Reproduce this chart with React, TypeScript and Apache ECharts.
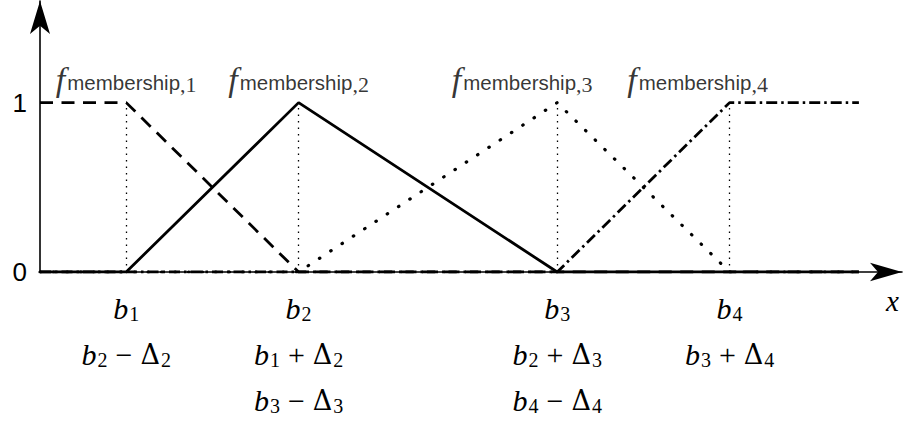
import React, { useEffect, useRef } from "react";
import * as echarts from "echarts";

// Breakpoints b1..b4 on the x axis
const bPositions = [1, 3, 6, 8];

// Membership functions (x, membership)
const f1Data = [[0, 1], [1, 1], [3, 0], [9.5, 0]];
const f2Data = [[0, 0], [1, 0], [3, 1], [6, 0], [9.5, 0]];
const f3Data = [[0, 0], [3, 0], [6, 1], [8, 0], [9.5, 0]];
const f4Data = [[0, 0], [6, 0], [8, 1], [9.5, 1]];

// Labels
const fLabelIndex = ["1", "2", "3", "4"];
const bLabelRows = [
  ["{i|b}{s|1}", "{i|b}{s|2}{o|−}{d|Δ}{s|2}"],
  ["{i|b}{s|2}", "{i|b}{s|1}{o|+}{d|Δ}{s|2}", "{i|b}{s|3}{o|−}{d|Δ}{s|3}"],
  ["{i|b}{s|3}", "{i|b}{s|2}{o|+}{d|Δ}{s|3}", "{i|b}{s|4}{o|−}{d|Δ}{s|4}"],
  ["{i|b}{s|4}", "{i|b}{s|3}{o|+}{d|Δ}{s|4}"],
];
const yTickValues = [0, 1];

const SERIF = "'Liberation Serif', 'DejaVu Serif', serif";
const DSERIF = "'DejaVu Serif', 'Liberation Serif', serif";
const SANS = "'Liberation Sans', Arial, sans-serif";

export default function App() {
  const ref = useRef<HTMLDivElement>(null);
  useEffect(() => {
    if (!ref.current) return;
    const chart = echarts.init(ref.current, undefined, { renderer: "svg" });
    const lineBase = { type: "line", symbol: "none", silent: true, z: 3 };
    const labelOffsets = [[0, 0], [0, 0], [-35, 0], [-32, 0]];
    chart.setOption({
      animation: false,
      backgroundColor: "#fff",
      grid: { left: 40, right: 3, top: 1, bottom: 145, containLabel: false },
      xAxis: {
        type: "value",
        min: 0,
        max: 10,
        name: "x",
        nameLocation: "end",
        nameGap: -16,
        nameTextStyle: {
          fontFamily: SERIF,
          fontStyle: "italic",
          fontSize: 29,
          color: "#000",
          verticalAlign: "top",
          padding: [14, 0, 0, 0],
        },
        splitLine: { show: false },
        axisTick: { show: false },
        axisLine: {
          show: true,
          onZero: false,
          symbol: ["none", "arrow"],
          symbolSize: [14, 32],
          lineStyle: { color: "#000", width: 1.6 },
        },
        axisLabel: {
          customValues: bPositions,
          margin: 13,
          color: "#000",
          lineHeight: 46,
          formatter: (v: number) => {
            const idx = bPositions.indexOf(v);
            return idx >= 0 ? bLabelRows[idx].join("\n") : "";
          },
          rich: {
            i: { fontFamily: SERIF, fontStyle: "italic", fontSize: 30, lineHeight: 46, color: "#000" },
            s: { fontFamily: SERIF, fontSize: 20, lineHeight: 34, padding: [12, 0, 0, 1], color: "#000" },
            o: { fontFamily: SERIF, fontSize: 30, lineHeight: 46, padding: [0, 8, 0, 8], color: "#000" },
            d: { fontFamily: DSERIF, fontSize: 27, lineHeight: 46, color: "#000" },
          },
        },
      },
      yAxis: {
        type: "value",
        min: 0,
        max: 1.6,
        splitLine: { show: false },
        axisLine: {
          show: true,
          symbol: ["none", "arrow"],
          symbolSize: [15, 33],
          lineStyle: { color: "#000", width: 1.6 },
        },
        axisTick: {
          show: true,
          customValues: yTickValues,
          inside: true,
          length: 5,
          lineStyle: { color: "#000", width: 1.6 },
        },
        axisLabel: {
          customValues: yTickValues,
          margin: 13,
          fontFamily: SANS,
          fontSize: 26,
          color: "#000",
        },
      },
      series: [
        {
          ...lineBase,
          name: "f2",
          data: f2Data,
          lineStyle: { color: "#000", width: 2.8, type: "solid" },
          markLine: {
            silent: true,
            symbol: ["none", "none"],
            label: { show: false },
            lineStyle: { color: "#000", width: 1.3, type: [1.5, 5] },
            data: bPositions.map((b) => [{ coord: [b, 0] }, { coord: [b, 1] }]),
          },
        },
        {
          ...lineBase,
          name: "f1",
          data: f1Data,
          lineStyle: { color: "#000", width: 2.8, type: [13, 8.5] },
        },
        {
          ...lineBase,
          name: "f3",
          data: f3Data,
          lineStyle: { color: "#000", width: 3.2, type: [0.5, 13], cap: "round" },
        },
        {
          ...lineBase,
          name: "f4",
          data: f4Data,
          lineStyle: { color: "#000", width: 2.8, type: [11, 4, 2.5, 4] },
        },
        {
          type: "scatter",
          name: "labels",
          symbolSize: 0,
          silent: true,
          z: 4,
          data: bPositions.map((b, i) => ({
            value: [b, 1],
            label: { offset: labelOffsets[i] },
          })),
          label: {
            show: true,
            position: "top",
            distance: 4,
            color: "#000",
            formatter: (p: any) => `{f|f}{m|membership}{c|,${fLabelIndex[p.dataIndex]}}`,
            rich: {
              f: { fontFamily: SERIF, fontStyle: "italic", fontSize: 34, lineHeight: 38, padding: [0, 2, 0, 0], color: "#000" },
              m: { fontFamily: SANS, fontSize: 20.5, lineHeight: 32, padding: [6, 0, 0, 0], color: "#000" },
              c: { fontFamily: SERIF, fontSize: 22, lineHeight: 28, padding: [10, 0, 0, 0], color: "#000" },
            },
          },
        },
      ],
    });
    return () => chart.dispose();
  }, []);
  return (
    <div
      ref={ref}
      style={{ position: "absolute", left: 0, top: 0, width: 905, height: 423, background: "#fff" }}
    />
  );
}
